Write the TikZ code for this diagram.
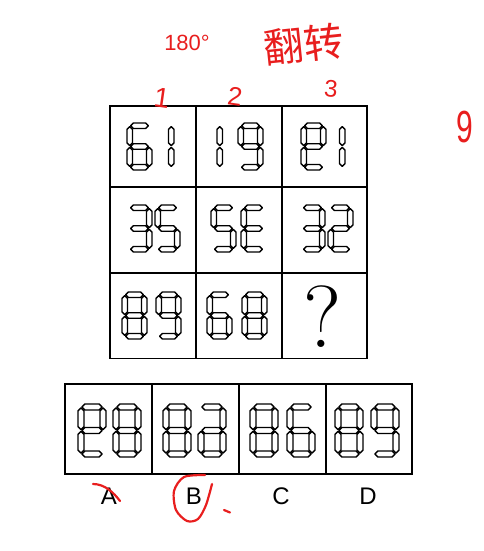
\documentclass[tikz,border=0pt]{standalone}
\usepackage{fontspec}
\newfontfamily\labelfont{Liberation Sans}
\newfontfamily\cjkfont{Noto Sans CJK SC}
\usetikzlibrary{positioning}
\definecolor{penRed}{RGB}{232,30,30}
\tikzstyle{seg} = [draw=black,line width=1.4pt,line join=round,fill=white]
\tikzstyle{box} = [line width=1.7pt]
\tikzstyle{pen} = [penRed,line width=2.2pt,line cap=round,line join=round]
\tikzstyle{note} = [penRed,inner sep=0pt]

% one hexagonal bar, lying or standing
\newcommand\segH[3]{\draw[seg] (#1,#3) -- (#1+\dgh,#3-\dgh) -- (#2-\dgh,#3-\dgh)
  -- (#2,#3) -- (#2-\dgh,#3+\dgh) -- (#1+\dgh,#3+\dgh) -- cycle;}
\newcommand\segV[3]{\draw[seg] (#1,#2) -- (#1+\dgh,#2+\dgh) -- (#1+\dgh,#3-\dgh)
  -- (#1,#3) -- (#1-\dgh,#3-\dgh) -- (#1-\dgh,#2+\dgh) -- cycle;}
\newcommand\dsega{\segH{\dgl+\dgg}{\dgr-\dgg}{\dgt}}
\newcommand\dsegg{\segH{\dgl+\dgg}{\dgr-\dgg}{\dgm}}
\newcommand\dsegd{\segH{\dgl+\dgg}{\dgr-\dgg}{\dgb}}
\newcommand\dsegf{\segV{\dgl}{\dgt+\dgg}{\dgm-\dgg}}
\newcommand\dsegb{\segV{\dgr}{\dgt+\dgg}{\dgm-\dgg}}
\newcommand\dsege{\segV{\dgl}{\dgm+\dgg}{\dgb-\dgg}}
\newcommand\dsegc{\segV{\dgr}{\dgm+\dgg}{\dgb-\dgg}}
% left, top, width, height, bar thickness, bars
\newcommand\segdigit[6]{%
  \begin{scope}[shift={(#1,#2)}]
    \pgfmathsetmacro\dgh{#5/2}
    \pgfmathsetmacro\dgg{0.9}
    \pgfmathsetmacro\dgl{\dgh}
    \pgfmathsetmacro\dgr{#3-\dgh}
    \pgfmathsetmacro\dgt{\dgh}
    \pgfmathsetmacro\dgm{#4/2}
    \pgfmathsetmacro\dgb{#4-\dgh}
    \foreach \s in {#6}{\csname dseg\s\endcsname}
  \end{scope}}
\newcommand\smalldigit[3]{\segdigit{#1}{#2}{25}{47}{5.5}{#3}}
\newcommand\bigdigit[3]{\segdigit{#1}{#2}{28}{53}{6}{#3}}

\begin{document}
\begin{tikzpicture}[x=1pt,y=-1pt]
  \useasboundingbox (0,0) rectangle (483,551);

  % puzzle grid
  \draw[box] (110,106) rectangle (367,358.5);
  \foreach \x in {196,282} \draw[box] (\x,106) -- (\x,358.5);
  \foreach \y in {187,273} \draw[box] (110,\y) -- (367,\y);

  % row 1
  \smalldigit{127}{123}{a,f,g,e,d,c}
  \smalldigit{149}{123}{b,c}
  \smalldigit{197.5}{123}{b,c}
  \smalldigit{238}{123}{a,b,c,d,f,g}
  \smalldigit{301}{123}{a,b,d,e,f,g}
  \smalldigit{320}{123}{b,c}
  % row 2
  \smalldigit{127}{205}{a,b,g,c,d}
  \smalldigit{155}{205}{a,f,g,c,d}
  \smalldigit{211}{205}{a,f,g,c,d}
  \smalldigit{241}{205}{a,f,g,e,d}
  \smalldigit{300}{205}{a,b,g,c,d}
  \smalldigit{328}{205}{a,b,g,e,d}
  % row 3
  \smalldigit{122}{292}{a,b,c,d,e,f,g}
  \smalldigit{156}{292}{a,b,c,d,f,g}
  \smalldigit{207}{292}{a,f,g,e,d,c}
  \smalldigit{242}{292}{a,b,c,d,e,f,g}
  \node (qmark) at (323,317) {\fontsize{88}{88}\selectfont ?};

  % answer row
  \draw[box] (65,384) rectangle (412,474);
  \foreach \x in {152,239,326} \draw[box] (\x,384) -- (\x,474);
  \bigdigit{78}{404}{a,b,d,e,f,g}
  \bigdigit{113}{404}{a,b,c,d,e,f,g}
  \bigdigit{163}{404}{a,b,c,d,e,f,g}
  \bigdigit{198}{404}{a,b,c,d,e,g}
  \bigdigit{250}{404}{a,b,c,d,e,f,g}
  \bigdigit{287}{404}{a,f,g,e,d,c}
  \bigdigit{335}{404}{a,b,c,d,e,f,g}
  \bigdigit{371}{404}{a,b,c,d,f,g}
  \foreach \l/\x in {A/109,B/194,C/281,D/368}
    \node[font=\labelfont\fontsize{24}{24}\selectfont] (opt\l) at (\x,496) {\l};

  % handwriting
  \node[note,font=\labelfont\fontsize{22}{22}\selectfont] (angle) at (187,43) {180°};
  \node[note,rotate=6,font=\cjkfont\fontsize{40}{40}\selectfont] (flip) at (304,44) {翻转};
  \node[note,rotate=-8,font=\labelfont\fontsize{28}{28}\selectfont] (col1) at (162,98) {1};
  \node[note,rotate=-8,font=\labelfont\fontsize{26}{26}\selectfont] (col2) at (235,97) {2};
  \node[note,rotate=-5,font=\labelfont\fontsize{24}{24}\selectfont] (col3) at (331,89) {3};
  \node[note,yscale=1.5,font=\labelfont\fontsize{30}{30}\selectfont] (nine) at (465,127) {9};
  \draw[pen] (93,484) .. controls (105,484) and (114,493) .. (120,501);
  \draw[pen] plot[smooth] coordinates {(205,475) (184,477) (174,491) (176,510)
    (187,521) (198,519) (206,505) (212,484)};
  \draw[pen] (224,510) -- (230,512.5);
\end{tikzpicture}
\end{document}
